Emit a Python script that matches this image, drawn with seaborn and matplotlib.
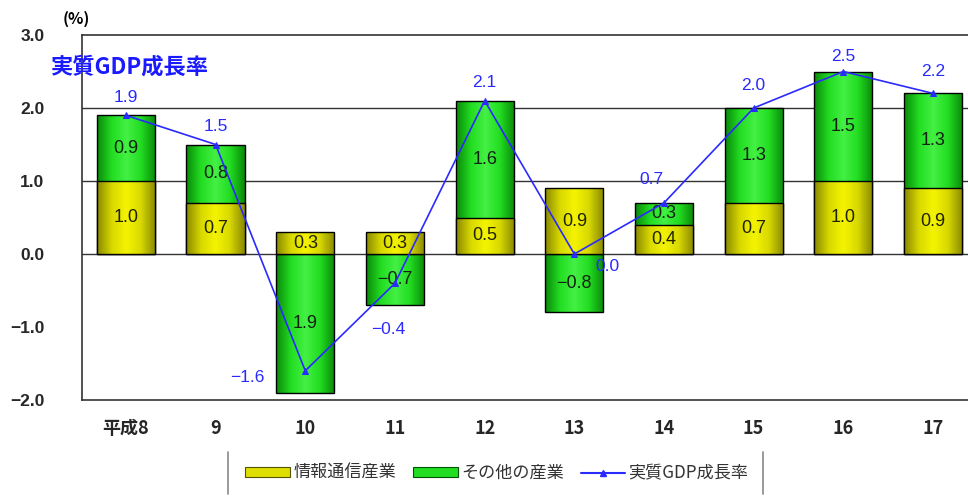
import numpy as np
import pandas as pd
import matplotlib
matplotlib.use("Agg")
import matplotlib.pyplot as plt
from matplotlib.lines import Line2D
from matplotlib.patches import Patch
from matplotlib.colors import LinearSegmentedColormap
import seaborn as sns

# ---- data ----
years = ["平成8", "9", "10", "11", "12", "13", "14", "15", "16", "17"]
ict = [1.0, 0.7, 0.3, 0.3, 0.5, 0.9, 0.4, 0.7, 1.0, 0.9]
other = [0.9, 0.8, -1.9, -0.7, 1.6, -0.8, 0.3, 1.3, 1.5, 1.3]
other_labels = ["0.9", "0.8", "1.9", "−0.7", "1.6", "−0.8", "0.3", "1.3", "1.5", "1.3"]
gdp = [1.9, 1.5, -1.6, -0.4, 2.1, 0.0, 0.7, 2.0, 2.5, 2.2]
yticks = [3.0, 2.0, 1.0, 0.0, -1.0, -2.0]

sns.set_theme(style="white")
plt.rcParams['font.family'] = ['Noto Sans CJK JP', 'DejaVu Sans']
NUM = ['Liberation Sans', 'DejaVu Sans']

fig = plt.figure(figsize=(9.68, 4.99), dpi=100)
ax = fig.add_axes([82/968, 1-400/499, 1-82/968, (400-35)/499])

df = pd.DataFrame({"year": years, "ict": ict, "other": other, "gdp": gdp})
# green bars: stacked on ict when positive, from zero when negative
df["green_top"] = [i + o if o > 0 else o for i, o in zip(ict, other)]

bw = 0.65
sns.barplot(data=df, x="year", y="green_top", color="#22dd22", width=bw,
            edgecolor="black", linewidth=1.0, saturation=1, ax=ax, zorder=3)
n_green = len(ax.patches)
sns.barplot(data=df, x="year", y="ict", color="#e8e800", width=bw,
            edgecolor="black", linewidth=1.0, saturation=1, ax=ax, zorder=4)

# cylinder-like gradients
cm_g = LinearSegmentedColormap.from_list("g", ["#0a8a0a", "#22dd22", "#44f044", "#22dd22", "#0a8a0a"])
cm_y = LinearSegmentedColormap.from_list("y", ["#8a8a00", "#d8d800", "#f4f400", "#d8d800", "#8a8a00"])
grad = np.linspace(0, 1, 64).reshape(1, -1)
for k, p in enumerate(ax.patches):
    cmap = cm_g if k < n_green else cm_y
    x0, y0 = p.get_x(), p.get_y()
    w, h = p.get_width(), p.get_height()
    yb, yt = min(y0, y0 + h), max(y0, y0 + h)
    im = ax.imshow(grad, extent=[x0, x0 + w, yb, yt], aspect="auto", cmap=cmap,
                   zorder=p.get_zorder(), interpolation="bilinear")
    im.set_clip_path(p)
    p.set_facecolor("none")
    p.set_zorder(p.get_zorder() + 0.5)

# bar labels
for i in range(len(years)):
    ax.text(i, ict[i] / 2, f"{ict[i]:.1f}", ha="center", va="center",
            fontsize=13, color="#222200", zorder=6, family=NUM)
    if other[i] > 0:
        yc = ict[i] + other[i] / 2
    else:
        yc = other[i] / 2
    ax.text(i, yc, other_labels[i], ha="center", va="center",
            fontsize=13, color="#112211", zorder=6, family=NUM)

# GDP line
xs = np.arange(len(years))
sns.lineplot(x=xs, y=gdp, ax=ax, color="#2a2aff", linewidth=1.2, marker="^",
             markersize=5, markeredgecolor="#2a2aff", sort=False, zorder=7)
offsets = [(0, 13), (0, 13), (-42, -5), (-5, -33), (0, 13), (24, -9), (-9, 17),
           (0, 16), (0, 11), (0, 16)]
for i, (dx, dy) in enumerate(offsets):
    ax.annotate(f"{gdp[i]:.1f}".replace("-", "−"), (i, gdp[i]), xytext=(dx, dy),
                textcoords="offset points", ha="center", va="center", fontsize=12.5,
                color="#2a2aff", zorder=8, family=NUM)

# axes styling
ax.set_xlim(-0.49, 9.39)
ax.set_ylim(-2.0, 3.0)
ax.set_yticks(yticks)
ax.set_yticklabels([f"{v:.1f}".replace("-", "−") for v in yticks],
                   fontsize=12.5, fontweight="bold", family=NUM)
ax.tick_params(axis="y", pad=27, length=0)
ax.tick_params(axis="x", pad=14, length=0)
ax.set_xticks(xs)
ax.set_xticklabels(years, fontsize=13, fontweight="bold")
ax.set_xlabel("")
ax.set_ylabel("")
for v in [2.0, 1.0, 0.0]:
    ax.axhline(v, color="#333333", linewidth=1.0, zorder=1)
for s in ["top", "left", "bottom"]:
    ax.spines[s].set_visible(True)
    ax.spines[s].set_color("#333333")
    ax.spines[s].set_linewidth(1.2)
ax.spines["right"].set_visible(False)

fig.text(76/968, 1 - 19/499, "(%)", ha="center", va="center", fontsize=11.5,
         fontweight="bold", color="black")
fig.text(50/968, 1 - 67/499, "実質GDP成長率", ha="left", va="center", fontsize=16,
         fontweight="bold", color="#1a1aff")

# legend
handles = [Patch(facecolor="#dede00", edgecolor="#555500", linewidth=0.8),
           Patch(facecolor="#22dd22", edgecolor="#005500", linewidth=0.8),
           Line2D([0], [0], color="#2a2aff", marker="^", markersize=4, linewidth=1.5)]
labels = ["情報通信産業", "その他の産業", "実質GDP成長率"]
fig.legend(handles, labels, loc="center", bbox_to_anchor=(497/968, 1 - 473/499),
           ncol=3, frameon=False, fontsize=12.3, handlelength=2.6, handleheight=0.45,
           handletextpad=0.2, columnspacing=1.0, labelcolor="#333333")
fig.add_artist(Line2D([228/968, 228/968], [1 - 494/499, 1 - 452/499], color="#888888", lw=1.2))
fig.add_artist(Line2D([763/968, 763/968], [1 - 494/499, 1 - 452/499], color="#888888", lw=1.2))

fig.savefig("out.png", dpi=100)
